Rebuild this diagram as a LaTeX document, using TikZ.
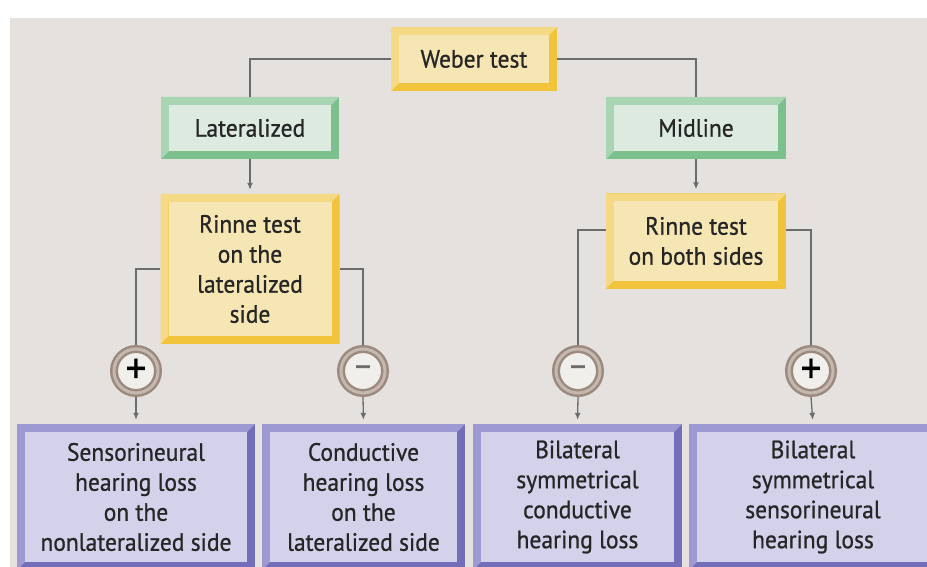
\documentclass[tikz,border=0pt]{standalone}
\usepackage{fontspec}
\setmainfont{PT Sans}[FakeStretch=0.94,FakeBold=0.8]
\usetikzlibrary{arrows.meta}

\definecolor{bggray}{HTML}{E4E1DE}
\definecolor{txt}{HTML}{262626}
\definecolor{wire}{HTML}{6C6C6C}
\definecolor{yfill}{HTML}{F6E6B4}
\definecolor{ylight}{HTML}{F6D985}
\definecolor{ydark}{HTML}{F1C43C}
\definecolor{gfill}{HTML}{DCEADF}
\definecolor{glight}{HTML}{A9D5B2}
\definecolor{gdark}{HTML}{7CC18D}
\definecolor{pfill}{HTML}{D3D2EA}
\definecolor{plight}{HTML}{9D99D2}
\definecolor{pdark}{HTML}{736EB9}
\definecolor{ring}{HTML}{9C8A7E}
\definecolor{ringlight}{HTML}{C4B8AF}
\definecolor{signfill}{HTML}{F1EFEC}

\newcommand\boxfont{\fontsize{25}{30}\selectfont}

\tikzset{
  bevelbox/.style n args={3}{rectangle, inner sep=0pt, align=center, font=\boxfont, text=txt, fill=#3,
    path picture={
      \fill[#2] (path picture bounding box.south west) rectangle (path picture bounding box.north east);
      \fill[#1] (path picture bounding box.south west) -- (path picture bounding box.north west)
        -- (path picture bounding box.north east) -- ([xshift=-8pt,yshift=-8pt]path picture bounding box.north east)
        -- ([xshift=8pt,yshift=-8pt]path picture bounding box.north west) -- ([xshift=8pt,yshift=8pt]path picture bounding box.south west) -- cycle;
      \fill[#3] ([xshift=8pt,yshift=8pt]path picture bounding box.south west) rectangle ([xshift=-8pt,yshift=-8pt]path picture bounding box.north east);
    }},
  testbox/.style={bevelbox={ylight}{ydark}{yfill}},
  sidebox/.style={bevelbox={glight}{gdark}{gfill}, minimum height=62pt},
  lossbox/.style={bevelbox={plight}{pdark}{pfill}, minimum height=146pt},
  sign/.style={circle, draw=ring, line width=8pt, fill=signfill, minimum size=44pt, inner sep=0pt,
    postaction={draw=ringlight, line width=3pt}},
  possign/.style={sign, text=black, font=\fontsize{44}{44}\selectfont},
  negsign/.style={sign, text=wire, font=\fontsize{34}{34}\selectfont},
  conn/.style={draw=wire, line width=1.3pt},
  arr/.style={conn, -{Latex[length=7pt,width=6pt]}, shorten >=4pt}
}

\begin{document}
\begin{tikzpicture}[x=1pt,y=-1pt]
\useasboundingbox (0,0) rectangle (927,567);
\fill[bggray] (10,18) rectangle (927,567);

% tests
\node[testbox, minimum width=166pt, minimum height=64pt] (weber) at (474,59) {Weber test};
\node[sidebox, minimum width=178pt] (lat) at (250,128) {Lateralized};
\node[sidebox, minimum width=180pt] (mid) at (696,128) {Midline};
\node[testbox, minimum width=179pt, minimum height=150pt] (rinL) at (250,269) {Rinne test\\on the\\lateralized\\side};
\node[testbox, minimum width=180pt, minimum height=95pt] (rinR) at (696,241) {Rinne test\\on both sides};

% results
\node[possign] (pL) at (136,371) {+};
\node[negsign] (mL) at (363,371) {–};
\node[negsign] (mR) at (578,371) {–};
\node[possign] (pR) at (811,371) {+};

\node[lossbox, minimum width=238pt] (snL) at (136,497) {Sensorineural\\hearing loss\\on the\\nonlateralized side};
\node[lossbox, minimum width=203pt] (cdL) at (363.5,497) {Conductive\\hearing loss\\on the\\lateralized side};
\node[lossbox, minimum width=209pt] (cdB) at (577.5,497) {Bilateral\\symmetrical\\conductive\\hearing loss};
\node[lossbox, minimum width=248pt] (snB) at (813,497) {Bilateral\\symmetrical\\sensorineural\\hearing loss};

% connectors
\draw[conn] (weber.west) -| (lat.north);
\draw[conn] (weber.east) -| (mid.north);
\draw[arr] (lat.south) -- (rinL.north);
\draw[arr] (mid.south) -- (rinR.north);
\draw[conn] (rinL.west) -| (pL.north);
\draw[conn] (rinL.east) -| (mL.north);
\draw[conn] ([yshift=11pt]rinR.west) -| (mR.north);
\draw[conn] ([yshift=11pt]rinR.east) -| (pR.north);
\draw[arr] (pL.south) -- (snL.north);
\draw[arr] (mL.south) -- (cdL.north);
\draw[arr] (mR.south) -- (cdB.north);
\draw[arr] (pR.south) -- (snB.north);
\end{tikzpicture}
\end{document}
